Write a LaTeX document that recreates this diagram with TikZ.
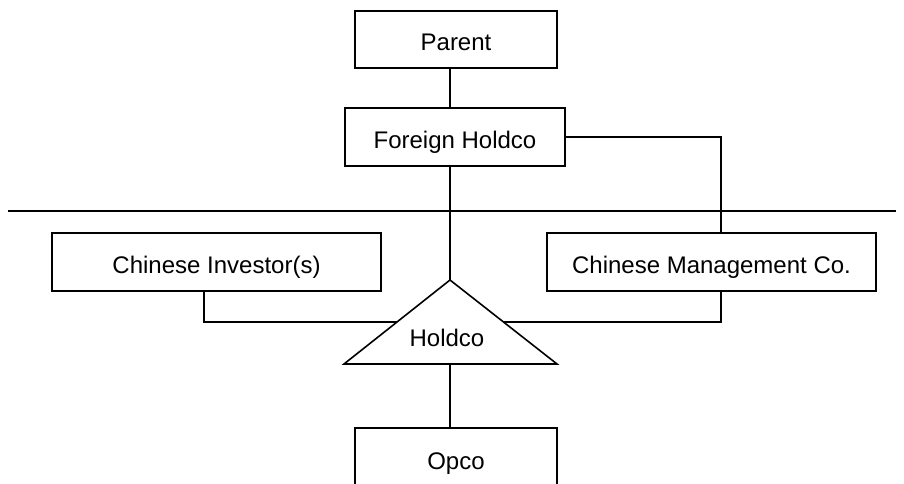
\documentclass[tikz,border=0pt]{standalone}
\usepackage{fontspec}
\setmainfont{Liberation Sans}
\usetikzlibrary{calc}
\begin{document}
\begin{tikzpicture}[x=1pt,y=-1pt,
  ln/.style={line width=1.6pt,line join=miter},
  box/.style={draw,line width=1.6pt,rectangle,inner sep=0pt,minimum height=58pt,
    text height=22.5pt,text depth=0.3pt,
    font=\fontsize{24}{28}\selectfont},
  lbl/.style={inner sep=0pt,font=\fontsize{24}{28}\selectfont}]
\useasboundingbox (0,0) rectangle (904,484);
% boxes
\node[box,minimum width=202pt,minimum height=57pt] (parent) at (456,39.5) {Parent};
\node[box,minimum width=220pt] (fh) at (455,137) {Foreign Holdco};
\node[box,minimum width=329pt] (inv) at (216.5,262) {Chinese Investor(s)};
\node[box,minimum width=329pt] (mgmt) at (711.5,262) {Chinese Management Co.};
\node[box,minimum width=202pt,minimum height=60pt] (opco) at (456,458) {Opco};
% triangle
\coordinate (apex) at (450,280);
\coordinate (bl) at (344,364);
\coordinate (br) at (557,364);
\coordinate (bc) at (450,364);
\draw[ln] (apex) -- (bl) -- (br) -- cycle;
\node[lbl] (holdco) at (447,338) {Holdco};
\coordinate (tl) at ($(bl)!0.5!(apex)$);
\coordinate (tr) at ($(br)!0.5!(apex)$);
% helper coordinates
\coordinate (mx) at (721,0);
\coordinate (ix) at (204,0);
\coordinate (dl) at (8,211);
\coordinate (dr) at (896,211);
% divider
\draw[ln] (dl) -- (dr);
% connectors
\draw[ln] (parent.south -| apex) -- (fh.north -| apex);
\draw[ln] (fh.south -| apex) -- (apex);
\draw[ln] (fh.east) -| (mgmt.north -| mx);
\draw[ln] (inv.south -| ix) |- (tl);
\draw[ln] (mgmt.south -| mx) |- (tr);
\draw[ln] (bc) -- (opco.north -| bc);
\end{tikzpicture}
\end{document}
